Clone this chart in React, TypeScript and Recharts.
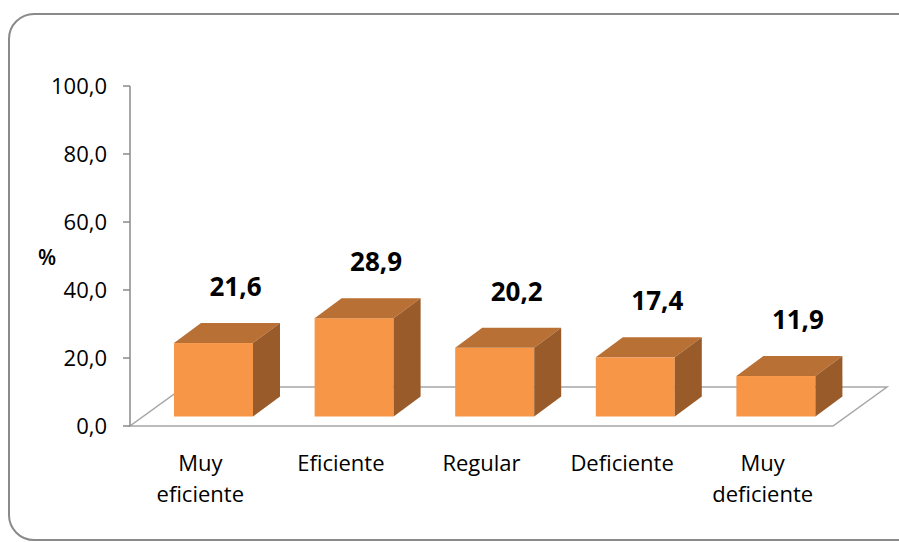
import React from "react";
import { Bar, BarChart, LabelList, ReferenceArea, XAxis, YAxis } from "recharts";

const categories = ["Muy eficiente", "Eficiente", "Regular", "Deficiente", "Muy deficiente"];
const values = [21.6, 28.9, 20.2, 17.4, 11.9];
const yTicks = [0, 20, 40, 60, 80, 100];

const data = categories.map((name, i) => ({ name, value: values[i] }));

const FONT = "'Open Sans', sans-serif";
// 3d offsets, Excel style
const DX = 27;
const DY = 20;
const SHIFT_X = 13;
const SHIFT_Y = 9.5;

const fmt = (v: number) => v.toFixed(1).replace(".", ",");

function Box3D(props: any) {
  const { x, y, width, height } = props;
  if (!height || height <= 0) return null;
  const fx = x + SHIFT_X;
  const fy = y - SHIFT_Y;
  const w = width;
  const h = height;
  const top = `${fx},${fy} ${fx + DX},${fy - DY} ${fx + w + DX},${fy - DY} ${fx + w},${fy}`;
  const side = `${fx + w},${fy} ${fx + w + DX},${fy - DY} ${fx + w + DX},${fy + h - DY} ${fx + w},${fy + h}`;
  return (
    <g>
      <rect x={fx} y={fy} width={w} height={h} fill="#F79646" />
      <polygon points={top} fill="#B97034" />
      <polygon points={side} fill="#9A5B2A" />
    </g>
  );
}

function Floor(props: any) {
  const { x, y, width, height } = props;
  const b = y + height;
  const pts = `${x},${b} ${x + width},${b} ${x + width + 54},${b - 39} ${x + 54},${b - 39}`;
  return <polygon points={pts} fill="#fff" stroke="#a6a6a6" strokeWidth={1.5} />;
}

function ValueLabel(props: any) {
  const { x, y, width, value } = props;
  return (
    <text
      x={x + width / 2 + SHIFT_X + 22}
      y={y - SHIFT_Y - 57}
      textAnchor="middle"
      dominantBaseline="central"
      fontFamily={FONT}
      fontWeight={700}
      fontSize={26}
      fill="#000"
    >
      {fmt(value)}
    </text>
  );
}

function CatTick(props: any) {
  const { x, payload } = props;
  const lines = String(payload.value).split(" ");
  return (
    <text x={x} y={463} textAnchor="middle" fontFamily={FONT} fontSize={22} fill="#000">
      {lines.map((l, i) => (
        <tspan key={i} x={x} y={462 + i * 31} dominantBaseline="central">
          {l}
        </tspan>
      ))}
    </text>
  );
}

export default function App() {
  return (
    <div style={{ position: "absolute", left: 0, top: 0, width: 899, height: 542, overflow: "hidden", background: "#fff" }}>
      <div
        style={{
          position: "absolute",
          left: 8,
          top: 13,
          width: 930,
          height: 528,
          border: "2px solid #8a8a8a",
          borderRadius: 26,
          boxSizing: "border-box",
        }}
      />
      <div
        style={{
          position: "absolute",
          left: 38,
          top: 242,
          fontFamily: FONT,
          fontSize: 21,
          fontWeight: 600,
          lineHeight: "30px",
        }}
      >
        %
      </div>
      <div style={{ position: "absolute", left: 0, top: 0 }}>
        <BarChart width={899} height={542} data={data} margin={{ top: 86, right: 66, bottom: 0, left: 0 }}>
          <ReferenceArea y1={0} y2={1} shape={Floor} ifOverflow="visible" />
          <XAxis dataKey="name" height={116} axisLine={false} tickLine={false} tick={<CatTick />} interval={0} />
          <YAxis
            width={130}
            domain={[0, 100]}
            ticks={yTicks}
            tickFormatter={fmt}
            stroke="#8a8a8a"
            strokeWidth={1.5}
            tickSize={7}
            tickMargin={16}
            tick={{ fill: "#000", fontFamily: FONT, fontSize: 22 }}
          />
          <Bar dataKey="value" barSize={79} shape={<Box3D />} isAnimationActive={false}>
            <LabelList dataKey="value" content={<ValueLabel />} />
          </Bar>
        </BarChart>
      </div>
    </div>
  );
}
